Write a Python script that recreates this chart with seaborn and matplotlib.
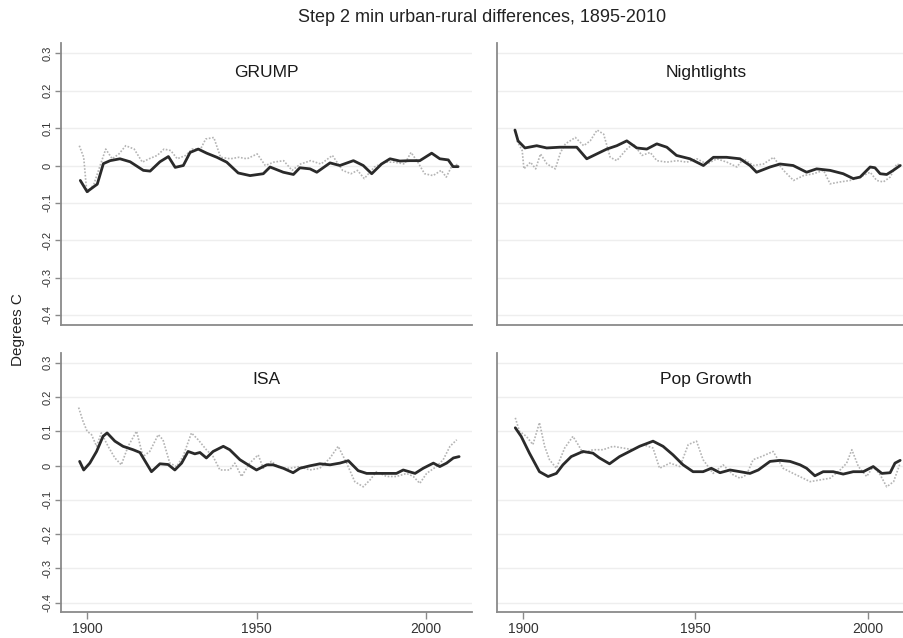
import matplotlib
matplotlib.use("Agg")
import matplotlib.pyplot as plt
import matplotlib.transforms as mtransforms
import seaborn as sns
import pandas as pd

# ---------------- data ----------------
panel_titles = ["GRUMP", "Nightlights", "ISA", "Pop Growth"]

grump_black_years = [1898, 1900, 1903, 1904.8, 1906.8, 1909.7, 1912.7, 1916.6, 1918.6, 1921.5, 1924, 1926,
                     1928.4, 1930.4, 1932.8, 1935.3, 1938.3, 1941.2, 1944.6, 1948.1, 1952, 1954, 1957.9,
                     1960.9, 1962.8, 1965.8, 1967.8, 1971.7, 1974.6, 1978.6, 1981.5, 1984, 1986.9, 1989.4,
                     1992.3, 1995.3, 1998.2, 2001.7, 2004.1, 2006.6, 2008, 2009.5]
grump_black_vals = [-0.04, -0.07, -0.05, 0.005, 0.013, 0.018, 0.01, -0.013, -0.015, 0.01, 0.024, -0.005,
                    0.0, 0.035, 0.044, 0.033, 0.022, 0.009, -0.02, -0.027, -0.022, -0.004, -0.018,
                    -0.024, -0.006, -0.009, -0.018, 0.007, 0.0, 0.013, 0.0, -0.022, 0.004, 0.018,
                    0.012, 0.013, 0.013, 0.033, 0.018, 0.015, -0.003, -0.003]
grump_gray_years = [1897.7, 1899, 1899.7, 1900, 1902, 1904, 1905.5, 1907.4, 1909.4, 1911.4, 1913.9, 1916.3,
                    1918.3, 1920.7, 1922.7, 1924.7, 1926.6, 1929.1, 1931, 1933.5, 1935, 1937.4, 1939.4,
                    1942.3, 1944.8, 1947.2, 1950.2, 1952.6, 1955.1, 1958, 1960.5, 1963, 1966, 1969,
                    1972.4, 1975.4, 1977.9, 1979.8, 1981.8, 1984.8, 1987.7, 1990.7, 1993.7, 1995.6,
                    1997.6, 1999.6, 2002.1, 2004.5, 2006, 2007.5, 2009.5]
grump_gray_vals = [0.053, 0.022, -0.05, -0.075, -0.05, 0.004, 0.044, 0.018, 0.031, 0.053, 0.044, 0.009,
                   0.018, 0.027, 0.044, 0.04, 0.018, 0.027, 0.044, 0.044, 0.071, 0.075, 0.022,
                   0.018, 0.022, 0.018, 0.031, 0.0, 0.009, 0.013, -0.013, 0.004, 0.013, 0.004,
                   0.027, -0.013, -0.022, -0.013, -0.035, -0.004, 0.009, 0.009, 0.004, 0.035,
                   0.009, -0.022, -0.027, -0.013, -0.031, -0.004, 0.004]

night_black_years = [1897.7, 1898.6, 1900.6, 1904, 1906.9, 1910.7, 1915.6, 1918.5, 1921.4, 1924.3, 1927.2,
                     1930.1, 1933, 1935.9, 1938.8, 1941.7, 1944.5, 1948.4, 1952.3, 1955.2, 1959, 1962.9,
                     1965.8, 1967.7, 1971.6, 1974.5, 1978.3, 1982.2, 1985.1, 1989, 1992.8, 1995.7,
                     1997.7, 2000.6, 2002, 2003.5, 2005.4, 2007.3, 2009.3]
night_black_vals = [0.095, 0.066, 0.047, 0.053, 0.047, 0.049, 0.049, 0.018, 0.031, 0.044, 0.053,
                    0.066, 0.047, 0.044, 0.058, 0.049, 0.027, 0.018, 0.0, 0.022, 0.022, 0.018,
                    0.0, -0.018, -0.004, 0.004, 0.0, -0.018, -0.009, -0.013, -0.022, -0.035,
                    -0.031, -0.004, -0.006, -0.022, -0.024, -0.013, 0.0]
night_gray_years = [1898.3, 1899.8, 1900.3, 1902.2, 1903.7, 1905.1, 1907, 1909.4, 1910.9, 1912.3, 1915.2,
                    1917.6, 1919.5, 1921.5, 1923.4, 1925.3, 1927.2, 1930.1, 1932, 1934.5, 1936.9, 1938.8,
                    1941.7, 1944.6, 1947.5, 1950.4, 1953.3, 1956.2, 1959.1, 1962, 1963.9, 1966.8,
                    1969.7, 1972.6, 1975.5, 1978.4, 1981.3, 1984.2, 1987.1, 1989, 1991.9, 1994.8,
                    1997.7, 2000.6, 2002.5, 2004.4, 2006.4, 2008.3, 2009.7]
night_gray_vals = [0.066, 0.04, -0.009, 0.009, -0.009, 0.031, 0.004, -0.009, 0.035, 0.058, 0.075,
                   0.053, 0.066, 0.095, 0.084, 0.022, 0.013, 0.044, 0.058, 0.027, 0.035, 0.013,
                   0.009, 0.013, 0.009, 0.018, 0.004, 0.018, 0.009, -0.004, 0.018, 0.0,
                   0.004, 0.022, -0.013, -0.04, -0.027, -0.022, -0.013, -0.049, -0.044, -0.04,
                   -0.031, -0.018, -0.04, -0.044, -0.031, 0.004, 0.0]

isa_black_years = [1897.8, 1899, 1900.8, 1902.8, 1904.7, 1905.9, 1908.2, 1910.6, 1913.6, 1915.6, 1919,
                   1921.5, 1923.9, 1925.9, 1927.9, 1929.8, 1931.8, 1933.3, 1935.2, 1937.2, 1940.2,
                   1942.1, 1945.1, 1948, 1950, 1953, 1954.9, 1957.9, 1960.8, 1962.8, 1965.7, 1968.7,
                   1971.7, 1974.6, 1977.1, 1980, 1982.5, 1985.4, 1987.4, 1991.3, 1993.3, 1996.8,
                   1999.2, 2002.2, 2004.1, 2006.1, 2008.1, 2009.8]
isa_black_vals = [0.012, -0.013, 0.007, 0.041, 0.085, 0.095, 0.071, 0.056, 0.046, 0.038, -0.018,
                  0.005, 0.003, -0.013, 0.007, 0.041, 0.034, 0.038, 0.022, 0.041, 0.056,
                  0.046, 0.017, -0.001, -0.013, 0.002, 0.002, -0.008, -0.021, -0.008, -0.001, 0.005,
                  0.002, 0.007, 0.014, -0.015, -0.023, -0.023, -0.023, -0.023, -0.013, -0.023,
                  -0.008, 0.007, -0.003, 0.007, 0.022, 0.026]
isa_gray_years = [1897.5, 1898.8, 1900, 1901.3, 1902.8, 1904.2, 1906.2, 1908.2, 1910.1, 1912.1, 1914.6,
                  1916.5, 1918.5, 1921, 1922.4, 1924.4, 1926.4, 1928.3, 1930.8, 1932.8, 1935.2, 1937.2,
                  1939.2, 1942.1, 1943.6, 1945.6, 1948, 1950.5, 1952, 1954.4, 1956.9, 1959.8, 1962.8,
                  1965.7, 1968.7, 1971.7, 1974.1, 1976.6, 1979, 1981.5, 1983.5, 1985.4, 1988.4,
                  1991.3, 1994.3, 1996.3, 1998.2, 2000.2, 2003.1, 2005.1, 2007.1, 2009.1]
isa_gray_vals = [0.169, 0.129, 0.1, 0.09, 0.056, 0.095, 0.056, 0.022, 0.002, 0.056, 0.1,
                 0.026, 0.041, 0.09, 0.075, 0.007, -0.003, 0.026, 0.095, 0.075, 0.046, 0.026,
                 -0.013, -0.013, 0.007, -0.032, 0.007, 0.031, -0.008, 0.012, -0.008, -0.008, -0.003,
                 -0.013, -0.008, 0.022, 0.056, 0.007, -0.047, -0.062, -0.042, -0.018, -0.032,
                 -0.032, -0.023, -0.032, -0.052, -0.023, -0.003, 0.017, 0.056, 0.075]

pop_black_years = [1897.8, 1899.5, 1901.9, 1904.8, 1907.3, 1909.7, 1911.6, 1914, 1917.4, 1920.3, 1922.2,
                   1925.1, 1928, 1930.9, 1933.8, 1937.7, 1940.6, 1943.5, 1946.4, 1949.3, 1952.2,
                   1954.6, 1957.1, 1960, 1962.9, 1965.8, 1968.2, 1971.6, 1974.5, 1977.4, 1980.3,
                   1982.2, 1984.6, 1987, 1989.9, 1992.8, 1995.7, 1998.6, 2001.5, 2004, 2006.4,
                   2007.8, 2009.3]
pop_black_vals = [0.11, 0.085, 0.036, -0.018, -0.032, -0.023, 0.002, 0.026, 0.041, 0.036, 0.022,
                  0.005, 0.026, 0.041, 0.056, 0.071, 0.056, 0.031, 0.002, -0.018, -0.018,
                  -0.008, -0.021, -0.013, -0.018, -0.023, -0.013, 0.012, 0.015, 0.012, 0.002,
                  -0.008, -0.03, -0.018, -0.018, -0.025, -0.018, -0.018, -0.003, -0.023, -0.021,
                  0.007, 0.015]
pop_gray_years = [1897.8, 1899, 1901, 1902.9, 1904.8, 1906.3, 1907.7, 1909.7, 1912.1, 1914.5, 1916,
                  1917.4, 1920.3, 1923.2, 1926.1, 1929, 1931.9, 1934.8, 1937.7, 1939.6, 1942.6,
                  1945.5, 1947.9, 1950.3, 1952.2, 1955.1, 1958, 1960.9, 1962.9, 1964.8, 1966.7,
                  1969.1, 1972.5, 1975.4, 1978.3, 1981.2, 1983.2, 1986.1, 1989, 1991.9, 1993.8,
                  1995.3, 1997.2, 1999.6, 2001.5, 2003.5, 2005.4, 2007.4, 2009.3]
pop_gray_vals = [0.139, 0.1, 0.085, 0.061, 0.125, 0.056, 0.017, -0.008, 0.051, 0.085, 0.061,
                 0.036, 0.046, 0.046, 0.056, 0.051, 0.046, 0.061, 0.051, -0.008, 0.007,
                 -0.003, 0.061, 0.071, 0.017, -0.023, 0.002, -0.027, -0.037, -0.027, 0.017,
                 0.026, 0.041, -0.008, -0.023, -0.037, -0.047, -0.042, -0.037, -0.013, 0.007,
                 0.046, -0.003, -0.032, -0.003, -0.027, -0.062, -0.047, 0.007]

y_ticks = [0.3, 0.2, 0.1, 0.0, -0.1, -0.2, -0.3, -0.4]
y_tick_labels = ["0.3", "0.2", "0.1", "0", "-0.1", "-0.2", "-0.3", "-0.4"]
x_ticks = [1900, 1950, 2000]
x_tick_labels = ["1900", "1950", "2000"]

series = [
    (grump_black_years, grump_black_vals, grump_gray_years, grump_gray_vals),
    (night_black_years, night_black_vals, night_gray_years, night_gray_vals),
    (isa_black_years, isa_black_vals, isa_gray_years, isa_gray_vals),
    (pop_black_years, pop_black_vals, pop_gray_years, pop_gray_vals),
]

# ---------------- style ----------------
sns.set_theme(style="white")
plt.rcParams["font.family"] = ["Liberation Sans", "DejaVu Sans"]

W, H = 904, 638
fig = plt.figure(figsize=(W / 100, H / 100), dpi=100)

def px_axes(x0, y0, x1, y1):
    return fig.add_axes([x0 / W, 1 - y1 / H, (x1 - x0) / W, (y1 - y0) / H])

# pixel boxes: (left, top, right, bottom)
boxes = [(61, 43, 472, 325), (497, 43, 915, 325), (61, 353, 472, 612), (497, 353, 915, 612)]
xlims = [(1892.3, 2013.6), (1892.5, 2013.6), (1892.3, 2013.6), (1892.5, 2013.6)]
ylim = (-0.427, 0.328)

spine_col = "#8a8a8a"
for i, (box, title, (bx, bv, gx, gv)) in enumerate(zip(boxes, panel_titles, series)):
    ax = px_axes(*box)
    ax.set_facecolor("white")
    for yt in y_ticks:
        ax.axhline(yt, color="#eeeeee", lw=1.0, zorder=0)
    gray_df = pd.DataFrame({"year": gx, "val": gv})
    black_df = pd.DataFrame({"year": bx, "val": bv})
    sns.lineplot(data=gray_df, x="year", y="val", ax=ax, color="#b4b4b4",
                 lw=1.2, linestyle=(0, (1, 1)), estimator=None, sort=False, zorder=2)
    sns.lineplot(data=black_df, x="year", y="val", ax=ax, color="#2a2a2a",
                 lw=2.0, estimator=None, sort=False, zorder=3)
    ax.set_xlim(*xlims[i])
    ax.set_ylim(*ylim)
    ax.set_xlabel("")
    ax.set_ylabel("")
    for s in ["top", "right"]:
        ax.spines[s].set_visible(False)
    for s in ["left", "bottom"]:
        ax.spines[s].set_color(spine_col)
        ax.spines[s].set_linewidth(1.3)
    trans = mtransforms.blended_transform_factory(ax.transAxes, ax.transData)
    ax.text(0.5, 0.25, title, transform=trans, ha="center", va="center",
            fontsize=12.5, color="#1a1a1a")
    left_col = i in (0, 2)
    bottom_row = i in (2, 3)
    if left_col:
        ax.set_yticks(y_ticks)
        ax.set_yticklabels(y_tick_labels, rotation=90, va="center", fontsize=8, color="#333333")
        ax.tick_params(axis="y", length=4, width=1, color=spine_col, pad=2, left=True)
    else:
        ax.set_yticks([])
    if bottom_row:
        ax.set_xticks(x_ticks)
        ax.set_xticklabels(x_tick_labels, fontsize=10, color="#333333")
        ax.tick_params(axis="x", length=5, width=1, color=spine_col, pad=2, bottom=True)
    else:
        ax.set_xticks([])

fig.text(482 / W, 1 - 17 / H, "Step 2 min urban-rural differences, 1895-2010",
         ha="center", va="center", fontsize=13, color="#222222")
fig.text(18 / W, 1 - 330 / H, "Degrees C", rotation=90, ha="center", va="center",
         fontsize=11, color="#222222")

fig.savefig("out.png", dpi=100, facecolor="white")
